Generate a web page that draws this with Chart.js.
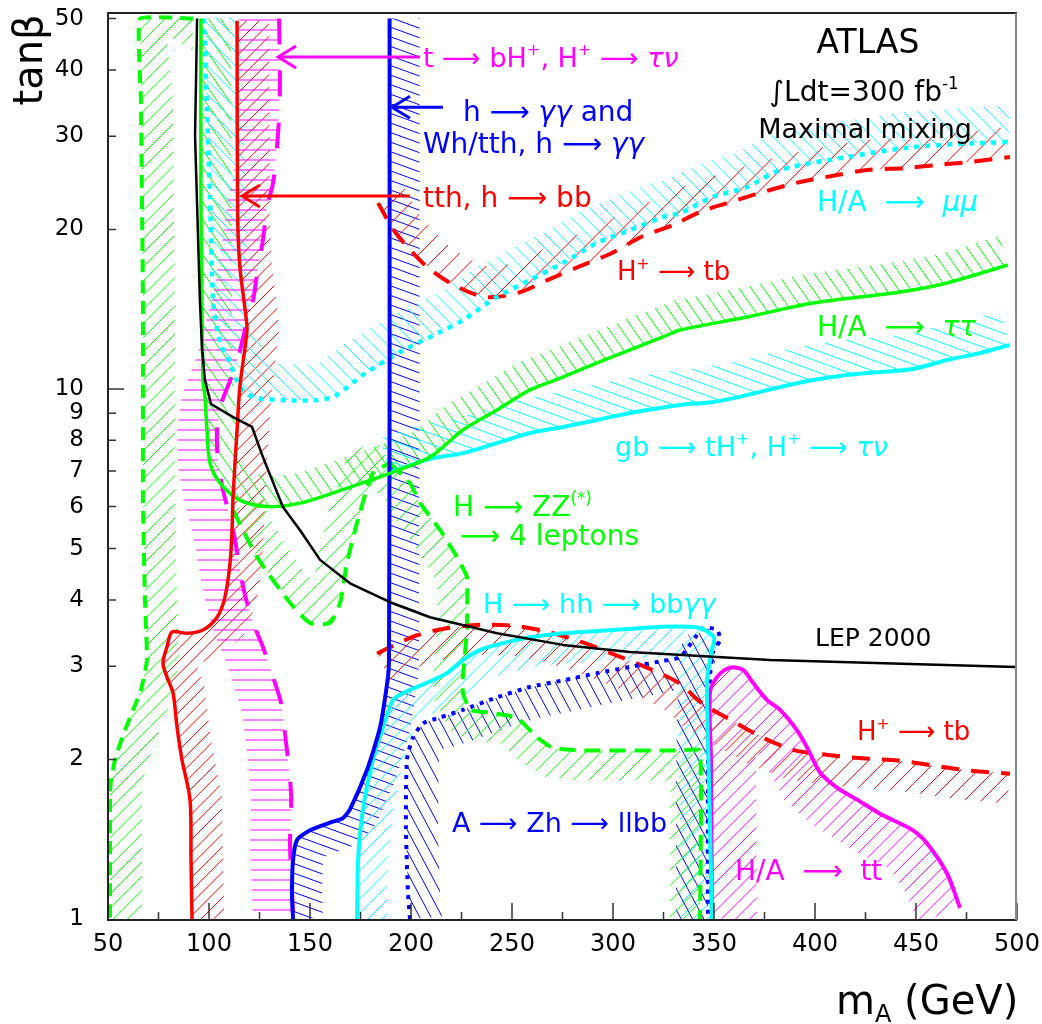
<!DOCTYPE html>
<html>
<head>
<meta charset="utf-8">
<script src="https://cdn.jsdelivr.net/npm/chart.js@4.4.0/dist/chart.umd.min.js"></script>
<style>
html, body { margin: 0; padding: 0; background: #fff; }
canvas { display: block; }
</style>
</head>
<body>
<canvas id="c" width="1042" height="1024" style="width:1042px;height:1024px"></canvas>
<script>
// tick values
var xTicks = [50, 100, 150, 200, 250, 300, 350, 400, 450, 500];
var xMinorTicks = [75, 125, 175, 225, 275, 325, 375, 425, 475];
var yTicks = [1, 2, 3, 4, 5, 6, 7, 8, 9, 10, 20, 30, 40, 50];

// contours: mA (GeV) and tan(beta)
var lepM  = [94.1, 93.1, 95.5, 96.5, 98.0, 101.0, 111.9, 121.3, 126.7, 136.6, 145.0, 155.0, 169.8, 189.6, 209.4, 242.6, 275.2, 308.4, 377.7, 499.5];
var lepTb = [50, 30, 14.7, 12.0, 10.4, 9.37, 8.85, 8.48, 7.44, 5.99, 5.42, 4.76, 4.30, 3.96, 3.71, 3.46, 3.29, 3.19, 3.08, 2.99];

var tthM  = [113.9, 114.2, 115.3, 118.3, 118.8, 115.3, 113.9, 111.9, 111.4, 110.4, 107.9, 104.0, 97.0, 89.1, 81.7, 79.2, 77.2, 79.2, 82.2, 84.2, 86.6, 90.6, 91.1, 91.6];
var tthTb = [49.5, 21.1, 17.0, 13.7, 12.9, 10.1, 8.37, 6.26, 5.42, 4.69, 4.05, 3.71, 3.51, 3.46, 3.48, 3.26, 3.04, 2.86, 2.67, 2.30, 2.0, 1.68, 1.29, 1.0];

var zzLeftM  = [92.1, 65.8, 66.3, 67.3, 67.3, 68.3, 69.3, 66.3, 62.4, 57.4, 53.5, 51.5, 51.0, 51.0];
var zzLeftTb = [50, 50, 35.1, 14.7, 6.17, 4.0, 3.08, 2.70, 2.48, 2.22, 2.0, 1.83, 1.73, 1.0];

var zzMidM  = [112.0, 123.8, 140.1, 150.0, 159.9, 164.9, 168.3, 173.3, 181.2, 189.6];
var zzMidTb = [5.9, 4.82, 3.95, 3.62, 3.62, 3.95, 4.70, 5.59, 6.94, 7.25];

var zzLowM  = [189.6, 199.5, 204.5, 214.4, 222.8, 227.7, 227.7, 225.7, 225.7, 229.2, 239.1, 252.5, 262.4, 270.3, 283.7, 331.7, 343.1, 343.1];
var zzLowTb = [7.25, 6.65, 6.09, 5.42, 4.82, 4.42, 3.51, 2.86, 2.67, 2.48, 2.45, 2.40, 2.20, 2.10, 2.08, 2.08, 2.08, 1.0];

var tautauM  = [96.0, 96.0, 97.0, 98.0, 99.0, 100.5, 105.4, 115.3, 128.7, 145.0, 169.8, 191.1, 209.4, 225.7, 242.6, 258.9, 275.2, 292.1, 308.4, 324.8, 333.2, 366.3, 399.0, 442.1, 465.3, 495.5];
var tautauTb = [50, 22.8, 10.4, 9.66, 8.37, 7.25, 6.65, 6.17, 6.0, 6.09, 6.53, 6.97, 7.44, 8.37, 9.13, 9.96, 10.53, 11.20, 11.85, 12.54, 12.92, 13.67, 14.53, 15.24, 15.85, 17.14];

var mumuM  = [97.5, 99.0, 100.5, 102.0, 104.0, 106.4, 110.4, 115.3, 121.8, 136.6, 153.5, 162.4, 176.2, 194.6, 214.4, 225.7, 242.6, 258.9, 275.2, 292.1, 308.4, 324.8, 333.2, 349.5, 366.3, 382.7, 415.8, 448.5, 481.7, 496.5];
var mumuTb = [50, 33.6, 22.8, 14.7, 12.92, 12.0, 11.2, 10.09, 9.66, 9.53, 9.53, 9.70, 10.63, 11.74, 12.81, 13.49, 14.92, 16.06, 17.29, 18.86, 19.95, 21.11, 21.48, 23.03, 24.05, 25.89, 27.40, 28.61, 29.12, 29.24];

var tbHighM  = [183.7, 192.1, 206.9, 220.3, 236.6, 252.9, 267.8, 282.7, 299.5, 313.9, 329.7, 343.1, 361.4, 377.7, 392.6, 410.9, 425.7, 444.6, 460.4, 476.7, 496.5];
var tbHighTb = [22.43, 19.78, 17.14, 15.78, 14.92, 15.18, 16.06, 16.99, 18.06, 19.36, 20.39, 21.58, 22.73, 23.74, 24.58, 25.33, 25.89, 26.12, 26.46, 26.81, 27.40];

var tbLowM  = [183.2, 202.0, 218.3, 235.1, 252.5, 267.8, 284.7, 301.0, 316.8, 333.2, 343.1, 360.4, 375.2, 390.1, 406.4, 423.3, 441.1, 457.9, 474.3, 496.5];
var tbLowTb = [3.17, 3.42, 3.54, 3.59, 3.57, 3.48, 3.33, 3.15, 2.98, 2.78, 2.57, 2.35, 2.19, 2.08, 2.04, 2.01, 1.99, 1.95, 1.91, 1.88];

var ggM  = [189.4, 189.4, 189.1, 188.6, 184.7, 178.2, 169.8, 166.3, 159.9, 150.0, 143.6, 141.6, 141.1, 141.6];
var ggTb = [50, 10, 3.08, 2.86, 2.30, 1.91, 1.61, 1.55, 1.52, 1.47, 1.41, 1.29, 1.12, 1.0];

var hhM  = [173.3, 173.8, 176.2, 181.2, 186.1, 191.1, 197.0, 207.9, 217.8, 225.7, 234.2, 247.5, 258.9, 275.2, 300.0, 324.8, 343.1, 350.0, 348.5, 346.5, 347.5, 349.0];
var hhTb = [1.0, 1.29, 1.61, 2.0, 2.30, 2.59, 2.68, 2.79, 2.91, 3.08, 3.22, 3.33, 3.40, 3.46, 3.51, 3.56, 3.54, 3.40, 3.15, 2.82, 1.83, 1.0];

var zhM  = [199.5, 198.5, 197.5, 198.0, 201.0, 205.9, 214.4, 225.7, 242.6, 258.9, 275.2, 292.1, 308.4, 324.8, 333.2, 344.6, 351.5, 353.0, 349.5, 348.0, 347.0, 347.0];
var zhTb = [1.0, 1.12, 1.49, 2.0, 2.20, 2.34, 2.40, 2.48, 2.62, 2.74, 2.82, 2.91, 2.99, 3.07, 3.12, 3.54, 3.51, 3.36, 3.19, 2.86, 1.83, 1.0];

var topDecayM  = [134.7, 135.1, 134.2, 131.7, 128.7, 126.7, 124.3, 121.8, 117.8, 113.4, 105.9, 104.0, 104.5, 106.9, 110.4, 112.9, 115.3, 117.8, 121.8, 126.7, 131.7, 135.6, 137.6, 139.1, 140.6, 140.6, 140.1, 141.1, 141.6];
var topDecayTb = [50, 36.66, 30.41, 24.47, 22.05, 19.10, 16.99, 14.7, 12.92, 11.10, 9.33, 8.37, 7.25, 6.45, 5.73, 5.19, 4.55, 4.09, 3.62, 3.26, 2.86, 2.56, 2.24, 2.0, 1.73, 1.58, 1.39, 1.12, 1.0];

var ttM  = [349.0, 348.5, 348.0, 351.5, 357.9, 364.4, 369.3, 376.2, 382.7, 391.1, 396.0, 402.5, 410.9, 420.8, 432.2, 448.5, 455.4, 465.3, 471.8];
var ttTb = [1.0, 2.0, 2.67, 2.86, 2.98, 2.95, 2.79, 2.59, 2.48, 2.27, 2.11, 1.89, 1.77, 1.68, 1.58, 1.47, 1.39, 1.22, 1.05];

var gbM  = [189.6, 209.4, 225.7, 242.6, 258.9, 275.2, 292.1, 308.4, 333.2, 349.5, 366.3, 382.7, 399.0, 415.8, 432.2, 448.5, 465.3, 481.7, 496.5];
var gbTb = [6.97, 7.38, 7.57, 7.91, 8.26, 8.48, 8.74, 9.01, 9.33, 9.45, 9.74, 10.09, 10.40, 10.63, 10.77, 10.91, 11.34, 11.69, 12.11];

var GREEN = '#00ff00', CYAN = '#00ffff', RED = '#ff0000', BLUE = '#0000ff', MAG = '#ff00ff', BLACK = '#000000';
var FONT = '"DejaVu Sans", "Liberation Sans", sans-serif';

// text on the plot, anchored in data coordinates
var notes = [
  {text: 't ⟶ bH^{+}, H^{+} ⟶ τν', m: 205.9, tb: 42.3, color: MAG, size: 27},
  {text: 'h ⟶ γγ and', m: 225.7, tb: 33.5, color: BLUE, size: 28},
  {text: 'Wh/tth, h ⟶ γγ', m: 205.9, tb: 29.1, color: BLUE, size: 28},
  {text: 'tth, h ⟶ bb', m: 205.9, tb: 23.0, color: RED, size: 28},
  {text: 'ATLAS', m: 426.2, tb: 45.4, color: BLACK, size: 33, align: 'center'},
  {text: '∫Ldt=300 fb^{-1}', m: 424.3, tb: 36.5, color: BLACK, size: 28, align: 'center'},
  {text: 'Maximal mixing', m: 424.8, tb: 31.1, color: BLACK, size: 27, align: 'center'},
  {text: 'H/A  ⟶  μμ', m: 401.0, tb: 22.63, color: CYAN, size: 28},
  {text: 'H^{+} ⟶ tb', m: 302.0, tb: 16.7, color: RED, size: 26},
  {text: 'H/A  ⟶  ττ', m: 401.0, tb: 13.15, color: GREEN, size: 28},
  {text: 'gb ⟶ tH^{+}, H^{+} ⟶ τν', m: 301.0, tb: 7.81, color: CYAN, size: 27},
  {text: 'H ⟶ ZZ^{(*)}', m: 220.8, tb: 6.02, color: GREEN, size: 28},
  {text: '⟶ 4 leptons', m: 224.3, tb: 5.30, color: GREEN, size: 28},
  {text: 'H ⟶ hh ⟶ bbγγ', m: 235.6, tb: 3.95, color: CYAN, size: 27},
  {text: 'LEP 2000', m: 400.0, tb: 3.40, color: BLACK, size: 25},
  {text: 'A ⟶ Zh ⟶ llbb', m: 220.3, tb: 1.52, color: BLUE, size: 27},
  {text: 'H^{+} ⟶ tb', m: 420.8, tb: 2.27, color: RED, size: 26},
  {text: 'H/A  ⟶  tt', m: 360.4, tb: 1.24, color: MAG, size: 28}
];
var pointers = [
  {from: [204.5, 42.3], to: [134.2, 42.3], color: MAG},
  {from: [215.8, 34.0], to: [190.6, 34.0], color: BLUE},
  {from: [199.5, 23.13], to: [116.3, 23.13], color: RED}
];

function curve(m, tb, color, width, dash, tension, hatch) {
  return {
    data: m.map(function (v, i) { return {x: v, y: tb[i]}; }),
    showLine: true, borderColor: color, borderWidth: width, borderDash: dash,
    borderJoinStyle: 'round', pointRadius: 0, fill: false, tension: tension, hatch: hatch
  };
}

var datasets = [
  curve(lepM, lepTb, BLACK, 2.5, [], 0, null),
  curve(tthM, tthTb, RED, 3.5, [], 0.3, {side: 1, width: 32, angle: 45, gap: 9}),
  curve(tautauM, tautauTb, GREEN, 3.5, [], 0.3, {side: 1, width: 30, angle: -55, gap: 10}),
  curve(ggM, ggTb, BLUE, 4, [], 0.2, {side: 1, width: 30, angle: -20, gap: 9}),
  curve(hhM, hhTb, CYAN, 4, [], 0.2, {side: -1, width: 30, angle: 45, gap: 10}),
  curve(ttM, ttTb, MAG, 4, [], 0.3, {side: -1, width: 45, angle: 45, gap: 10}),
  curve(gbM, gbTb, CYAN, 4, [], 0.3, {side: 1, width: 35, angle: -20, gap: 10}),
  curve(zhM, zhTb, BLUE, 4, [4, 6], 0.2, {side: -1, width: 32, angle: -62, gap: 10}),
  curve(mumuM, mumuTb, CYAN, 4.5, [5, 6], 0.3, {side: 1, width: 36, angle: -45, gap: 10}),
  curve(tbHighM, tbHighTb, RED, 4, [18, 12], 0.3, {side: 1, width: 30, angle: 45, gap: 14}),
  curve(tbLowM, tbLowTb, RED, 4, [18, 12], 0.3, {side: -1, width: 30, angle: 45, gap: 12}),
  curve(zzLeftM, zzLeftTb, GREEN, 4, [13, 8], 0.1, {side: 1, width: 32, angle: 45, gap: 10}),
  curve(zzMidM, zzMidTb, GREEN, 4, [16, 9], 0.2, {side: 1, width: 30, angle: 45, gap: 11}),
  curve(zzLowM, zzLowTb, GREEN, 4, [16, 9], 0.1, {side: -1, width: 30, angle: 45, gap: 11}),
  curve(topDecayM, topDecayTb, MAG, 4, [26, 26], 0.3, {side: -1, width: 40, angle: 0, gap: 10})
];

function offsetPath(pts, w, side) {
  return pts.map(function (p, i) {
    var a = pts[Math.max(i - 1, 0)], b = pts[Math.min(i + 1, pts.length - 1)];
    var dx = b.x - a.x, dy = b.y - a.y, len = Math.hypot(dx, dy) || 1;
    return {x: p.x + side * dy / len * w, y: p.y - side * dx / len * w};
  });
}

function drawHatch(ctx, pts, h, color) {
  var off = offsetPath(pts, h.width, h.side);
  var all = pts.concat(off);
  var minX = Math.min.apply(null, all.map(function (p) { return p.x; }));
  var maxX = Math.max.apply(null, all.map(function (p) { return p.x; }));
  var minY = Math.min.apply(null, all.map(function (p) { return p.y; }));
  var maxY = Math.max.apply(null, all.map(function (p) { return p.y; }));
  ctx.save();
  ctx.beginPath();
  pts.forEach(function (p, i) { if (i) ctx.lineTo(p.x, p.y); else ctx.moveTo(p.x, p.y); });
  for (var i = off.length - 1; i >= 0; i--) ctx.lineTo(off[i].x, off[i].y);
  ctx.closePath();
  ctx.clip();
  var a = h.angle * Math.PI / 180;
  var ux = Math.cos(a), uy = -Math.sin(a), nx = -uy, ny = ux;
  var corners = [[minX, minY], [maxX, minY], [minX, maxY], [maxX, maxY]];
  var sv = corners.map(function (c) { return c[0] * nx + c[1] * ny; });
  var tv = corners.map(function (c) { return c[0] * ux + c[1] * uy; });
  var s0 = Math.floor(Math.min.apply(null, sv) / h.gap) * h.gap, s1 = Math.max.apply(null, sv);
  var t0 = Math.min.apply(null, tv), t1 = Math.max.apply(null, tv);
  ctx.strokeStyle = color;
  ctx.lineWidth = 1;
  ctx.beginPath();
  for (var s = s0; s <= s1; s += h.gap) {
    ctx.moveTo(nx * s + ux * t0, ny * s + uy * t0);
    ctx.lineTo(nx * s + ux * t1, ny * s + uy * t1);
  }
  ctx.stroke();
  ctx.restore();
}

var hatchPlugin = {
  id: 'hatch',
  beforeDatasetsDraw: function (chart) {
    var ctx = chart.ctx, area = chart.chartArea;
    ctx.save();
    ctx.beginPath();
    ctx.rect(area.left, area.top, area.right - area.left, area.bottom - area.top);
    ctx.clip();
    chart.data.datasets.forEach(function (ds, i) {
      if (!ds.hatch) return;
      var pts = chart.getDatasetMeta(i).data.map(function (p) { return {x: p.x, y: p.y}; });
      drawHatch(ctx, pts, ds.hatch, ds.borderColor);
    });
    ctx.restore();
  }
};

var GREEK = 'γτνμ';
function drawRich(ctx, str, x, y, size, color, align) {
  var runs = [], buf = '', i = 0;
  while (i < str.length) {
    var c = str[i];
    if ((c === '^' || c === '_') && str[i + 1] === '{') {
      if (buf) { runs.push({t: buf, k: 0}); buf = ''; }
      var j = str.indexOf('}', i);
      runs.push({t: str.slice(i + 2, j), k: c === '^' ? 1 : -1});
      i = j + 1;
    } else { buf += c; i++; }
  }
  if (buf) runs.push({t: buf, k: 0});
  var pieces = [];
  runs.forEach(function (r) {
    var cur = '', g = null;
    Array.from(r.t).forEach(function (ch) {
      var isG = GREEK.indexOf(ch) >= 0;
      if (g !== null && isG !== g) { pieces.push({t: cur, k: r.k, g: g}); cur = ''; }
      cur += ch; g = isG;
    });
    if (cur) pieces.push({t: cur, k: r.k, g: g});
  });
  function font(p) { return (p.g ? 'italic ' : '') + (p.k ? size * 0.6 : size) + 'px ' + FONT; }
  var total = 0;
  pieces.forEach(function (p) { ctx.font = font(p); p.w = ctx.measureText(p.t).width; total += p.w; });
  var cx = align === 'center' ? x - total / 2 : x;
  var base = y + size * 0.36;
  ctx.fillStyle = color;
  ctx.textAlign = 'left';
  ctx.textBaseline = 'alphabetic';
  pieces.forEach(function (p) {
    ctx.font = font(p);
    var dy = p.k === 1 ? -size * 0.42 : (p.k === -1 ? size * 0.2 : 0);
    ctx.fillText(p.t, cx, base + dy);
    cx += p.w;
  });
}

var decorPlugin = {
  id: 'decor',
  afterDraw: function (chart) {
    var ctx = chart.ctx, a = chart.chartArea, xs = chart.scales.x, ys = chart.scales.y;
    ctx.save();
    // ticks pointing into the frame
    ctx.strokeStyle = '#333';
    ctx.lineWidth = 1.5;
    ctx.beginPath();
    xTicks.forEach(function (v) { var px = xs.getPixelForValue(v); ctx.moveTo(px, a.bottom); ctx.lineTo(px, a.bottom - 17); });
    xMinorTicks.forEach(function (v) { var px = xs.getPixelForValue(v); ctx.moveTo(px, a.bottom); ctx.lineTo(px, a.bottom - 8); });
    yTicks.forEach(function (v) {
      if (v === 1) return;
      var py = ys.getPixelForValue(v);
      ctx.moveTo(a.left, py); ctx.lineTo(a.left + (v === 10 ? 16 : 8), py);
    });
    ctx.stroke();
    // frame
    ctx.lineWidth = 2;
    ctx.strokeStyle = '#222';
    ctx.beginPath();
    ctx.moveTo(a.right, a.top); ctx.lineTo(a.left, a.top); ctx.lineTo(a.left, a.bottom); ctx.lineTo(a.right, a.bottom);
    ctx.stroke();
    ctx.strokeStyle = '#888';
    ctx.beginPath();
    ctx.moveTo(a.right - 1, a.top); ctx.lineTo(a.right - 1, a.bottom);
    ctx.stroke();
    // leader arrows
    pointers.forEach(function (p) {
      var x0 = xs.getPixelForValue(p.from[0]), y0 = ys.getPixelForValue(p.from[1]);
      var x1 = xs.getPixelForValue(p.to[0]), y1 = ys.getPixelForValue(p.to[1]);
      ctx.strokeStyle = p.color;
      ctx.lineWidth = 3;
      ctx.beginPath();
      ctx.moveTo(x0, y0); ctx.lineTo(x1, y1);
      ctx.moveTo(x1 + 18, y1 - 11); ctx.lineTo(x1, y1); ctx.lineTo(x1 + 18, y1 + 11);
      ctx.stroke();
    });
    // labels
    notes.forEach(function (n) {
      drawRich(ctx, n.text, xs.getPixelForValue(n.m), ys.getPixelForValue(n.tb), n.size, n.color, n.align);
    });
    // axis titles
    drawRich(ctx, 'm_{A} (GeV)', 836, 1000, 40, BLACK, 'left');
    ctx.translate(28, 60);
    ctx.rotate(-Math.PI / 2);
    drawRich(ctx, 'tanβ', 0, 0, 40, BLACK, 'center');
    ctx.restore();
  }
};

new Chart(document.getElementById('c'), {
  type: 'scatter',
  data: {datasets: datasets},
  options: {
    responsive: false,
    animation: false,
    devicePixelRatio: 1,
    layout: {padding: {top: 13, right: 25, left: 0, bottom: 0}},
    plugins: {legend: {display: false}, tooltip: {enabled: false}},
    scales: {
      x: {
        type: 'linear', min: 50, max: 500,
        grid: {display: false, drawTicks: false}, border: {display: false},
        afterBuildTicks: function (s) { s.ticks = xTicks.map(function (v) { return {value: v}; }); },
        afterFit: function (s) { s.height = 104; s.paddingLeft = 0; s.paddingRight = 0; },
        ticks: {color: '#000', font: {family: FONT, size: 24}, padding: 10, maxRotation: 0, autoSkip: false,
                callback: function (v) { return String(v); }}
      },
      y: {
        type: 'logarithmic', min: 0.9957, max: 51.22,
        grid: {display: false, drawTicks: false}, border: {display: false},
        afterBuildTicks: function (s) { s.ticks = yTicks.map(function (v) { return {value: v}; }); },
        afterFit: function (s) { s.width = 108; s.paddingTop = 0; s.paddingBottom = 0; },
        ticks: {color: '#000', font: {family: FONT, size: 23}, padding: 24, autoSkip: false,
                callback: function (v) { return String(v); }}
      }
    }
  },
  plugins: [hatchPlugin, decorPlugin]
});
</script>
</body>
</html>
